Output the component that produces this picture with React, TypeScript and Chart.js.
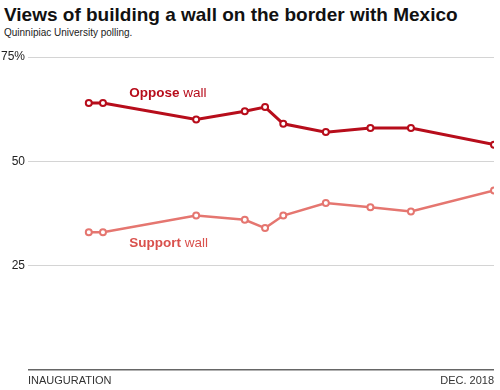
import React, { useEffect, useRef } from "react";
import { Chart, registerables } from "chart.js";

Chart.register(...registerables);

// months since inauguration (Jan 2017)
const pollMonths = [3.0, 3.7, 8.3, 10.7, 11.7, 12.6, 14.7, 16.9, 18.9, 23.0];
const opposeWall = [64, 64, 60, 62, 63, 59, 57, 58, 58, 54];
const supportWall = [33, 33, 37, 36, 34, 37, 40, 39, 38, 43];
const xTickLabels = ["INAUGURATION", "DEC. 2018"];
const xTickValues = [0, 23];
const yTickValues = [25, 50, 75];

const OPPOSE_COLOR = "#b70d1b";
const SUPPORT_COLOR = "#e57670";

const labelPlugin = {
  id: "seriesLabels",
  afterDatasetsDraw(chart: any) {
    const { ctx, scales } = chart;
    const xs = scales.x;
    const ys = scales.y;
    const draw = (x: number, y: number, bold: string, rest: string, color: string) => {
      ctx.save();
      ctx.fillStyle = color;
      ctx.textBaseline = "middle";
      ctx.textAlign = "left";
      ctx.font = "bold 13.5px 'Liberation Sans', Arial, sans-serif";
      const px = xs.getPixelForValue(x);
      const py = ys.getPixelForValue(y);
      ctx.fillText(bold, px, py);
      const w = ctx.measureText(bold + " ").width;
      ctx.font = "13.5px 'Liberation Sans', Arial, sans-serif";
      ctx.fillText(rest, px + w, py);
      ctx.restore();
    };
    draw(5.0, 66.3, "Oppose", "wall", OPPOSE_COLOR);
    draw(5.0, 30.4, "Support", "wall", "#d9504c");
  },
};

export default function App() {
  const ref = useRef<HTMLCanvasElement | null>(null);
  useEffect(() => {
    document.body.style.margin = "0";
    const chart = new Chart(ref.current as HTMLCanvasElement, {
      type: "line",
      data: {
        datasets: [
          {
            label: "Oppose wall",
            data: pollMonths.map((m, i) => ({ x: m, y: opposeWall[i] })),
            borderColor: OPPOSE_COLOR,
            backgroundColor: "#ffffff",
            borderWidth: 3,
            pointRadius: 3,
            pointBorderWidth: 2,
            pointBorderColor: OPPOSE_COLOR,
            pointBackgroundColor: "#ffffff",
            tension: 0,
          },
          {
            label: "Support wall",
            data: pollMonths.map((m, i) => ({ x: m, y: supportWall[i] })),
            borderColor: SUPPORT_COLOR,
            backgroundColor: "#ffffff",
            borderWidth: 2.5,
            pointRadius: 3,
            pointBorderWidth: 2,
            pointBorderColor: SUPPORT_COLOR,
            pointBackgroundColor: "#ffffff",
            tension: 0,
          },
        ],
      },
      options: {
        animation: false,
        responsive: false,
        maintainAspectRatio: false,
        layout: { padding: { top: 57, right: 6, left: 0, bottom: 0 } },
        plugins: {
          legend: { display: false },
          tooltip: { enabled: false },
        },
        scales: {
          x: {
            type: "linear",
            min: 0,
            max: 23,
            afterFit: (axis: any) => {
              axis.height = 20;
            },
            afterBuildTicks: (axis: any) => {
              axis.ticks = xTickValues.map((v) => ({ value: v }));
            },
            ticks: {
              autoSkip: false,
              maxRotation: 0,
              align: "inner",
              color: "#333",
              padding: 4,
              font: { size: 11, family: "'Liberation Sans', Arial, sans-serif" },
              callback: (v: any) => {
                const i = xTickValues.indexOf(Number(v));
                return i >= 0 ? xTickLabels[i] : "";
              },
            },
            grid: { display: false, drawTicks: false },
            border: { display: false },
          },
          y: {
            min: 0,
            max: 75,
            afterFit: (axis: any) => {
              axis.width = 28;
            },
            afterBuildTicks: (axis: any) => {
              axis.ticks = [0, ...yTickValues].map((v) => ({ value: v }));
            },
            ticks: {
              color: "#222",
              padding: 3,
              font: { size: 12, family: "'Liberation Sans', Arial, sans-serif" },
              callback: (v: any) => (v === 0 ? "" : v === 75 ? "75%" : String(v)),
            },
            grid: {
              color: (c: any) => (c.tick && c.tick.value === 0 ? "#666666" : "#d4d4d4"),
              lineWidth: (c: any) => (c.tick && c.tick.value === 0 ? 1.5 : 1),
              drawTicks: false,
            },
            border: { display: false },
          },
        },
      },
      plugins: [labelPlugin],
    } as any);
    return () => chart.destroy();
  }, []);

  return (
    <div style={{ position: "relative", width: 500, height: 390, background: "#fff" }}>
      <div
        style={{
          position: "absolute",
          left: 4,
          top: 4,
          fontFamily: "'Liberation Sans', Arial, sans-serif",
          fontWeight: "bold",
          fontSize: 19,
          color: "#111",
          whiteSpace: "nowrap",
        }}
      >
        Views of building a wall on the border with Mexico
      </div>
      <div
        style={{
          position: "absolute",
          left: 4,
          top: 27,
          fontFamily: "'Liberation Sans', Arial, sans-serif",
          fontSize: 10,
          color: "#222",
          whiteSpace: "nowrap",
        }}
      >
        Quinnipiac University polling.
      </div>
      <canvas ref={ref} width={500} height={390} style={{ position: "absolute", left: 0, top: 0 }} />
    </div>
  );
}
